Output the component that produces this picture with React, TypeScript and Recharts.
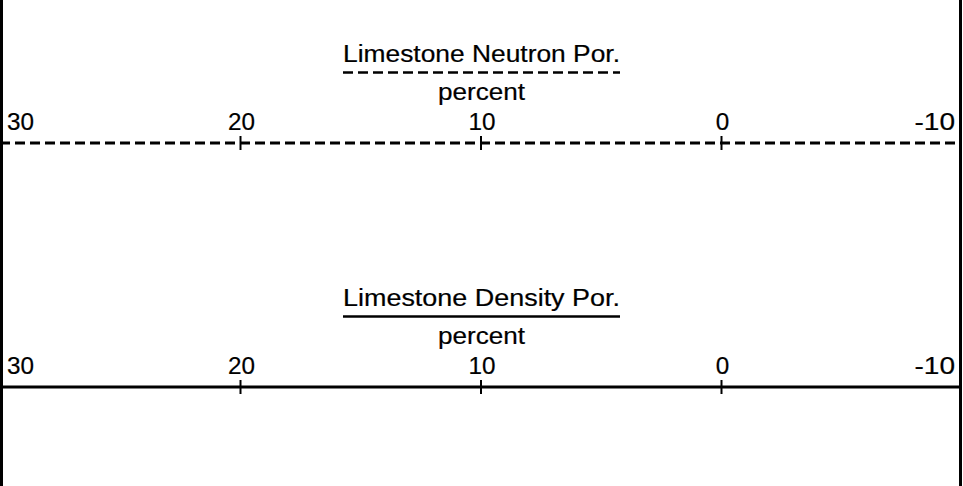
import { LineChart, Line, XAxis, YAxis, Customized } from "recharts";

const FONT = "'Liberation Sans', Arial, sans-serif";

// porosity scale, read left to right (reversed: 30 at left, -10 at right)
const porTicks = [30, 20, 10, 0, -10];
const porDomain = [-10, 30];

const trackTitles = ["Limestone Neutron Por.", "Limestone Density Por."];
const trackUnits = ["percent", "percent"];
const trackDashes = ["10 5", undefined];

const rows = porTicks.map((p) => ({ por: p, depth: 0 }));

function PorTick({ x, y, payload }: any) {
  const first = payload.value === porTicks[0];
  const last = payload.value === porTicks[porTicks.length - 1];
  const anchor = first ? "start" : last ? "end" : "middle";
  const dx = first ? 7 : last ? -7 : 1;
  const label = String(payload.value);
  return (
    <g>
      <line x1={x} x2={x} y1={y - 7} y2={y + 7} stroke="#000" strokeWidth={2} />
      <text
        x={x + dx}
        y={y - 13}
        textAnchor={anchor}
        fontSize={24}
        fontFamily={FONT}
        fill="#000"
        stroke="#000"
        strokeWidth={0.2}
        textLength={label.length * 13.5}
        lengthAdjust="spacingAndGlyphs"
      >
        {label}
      </text>
    </g>
  );
}

function TrackTitle({ title, unit, dash }: { title: string; unit: string; dash?: string }) {
  return (
    <g fontFamily={FONT} fill="#000" stroke="#000" strokeWidth={0.2}>
      <text x={481.5} y={62} textAnchor="middle" fontSize={23} textLength={277} lengthAdjust="spacingAndGlyphs">
        {title}
      </text>
      <line x1={343} x2={620} y1={72.5} y2={72.5} stroke="#000" strokeWidth={2.5} strokeDasharray={dash} />
      <text x={481.5} y={99.5} textAnchor="middle" fontSize={23} textLength={87} lengthAdjust="spacingAndGlyphs">
        {unit}
      </text>
    </g>
  );
}

function Track({ i }: { i: number }) {
  return (
    <LineChart width={962} height={244} data={rows} margin={{ top: 0, right: 0, bottom: 0, left: 0 }}>
      <XAxis
        dataKey="por"
        type="number"
        orientation="top"
        domain={porDomain}
        reversed
        ticks={porTicks}
        interval={0}
        height={143}
        tickSize={0}
        tickMargin={0}
        tickLine={false}
        tick={<PorTick />}
        axisLine={{ stroke: "#000", strokeWidth: 3, strokeDasharray: trackDashes[i] }}
      />
      <YAxis hide domain={[0, 1]} />
      <Line dataKey="depth" stroke="none" dot={false} isAnimationActive={false} />
      <Customized component={<TrackTitle title={trackTitles[i]} unit={trackUnits[i]} dash={trackDashes[i]} />} />
    </LineChart>
  );
}

export default function App() {
  return (
    <div style={{ position: "absolute", left: 0, top: 0, width: 963, height: 486, background: "#fff", overflow: "hidden" }}>
      <div style={{ position: "absolute", left: 0, top: 0 }}>
        <Track i={0} />
      </div>
      <div style={{ position: "absolute", left: 0, top: 244 }}>
        <Track i={1} />
      </div>
      <div style={{ position: "absolute", left: 0, top: 0, width: 3, height: 486, background: "#000" }} />
      <div style={{ position: "absolute", left: 959, top: 0, width: 3, height: 486, background: "#000" }} />
    </div>
  );
}
